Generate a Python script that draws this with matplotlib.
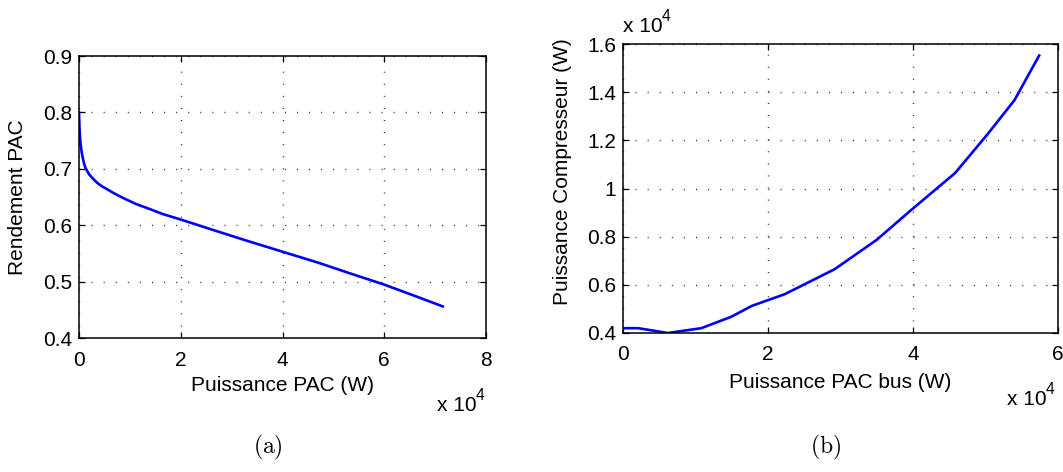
import matplotlib
matplotlib.use('Agg')
import matplotlib.pyplot as plt
import numpy as np

plt.rcParams['font.family'] = ['Liberation Sans', 'DejaVu Sans']
plt.rcParams['lines.scale_dashes'] = False
plt.rcParams['mathtext.fontset'] = 'cm'

# --- data (x in units of 1e4 W) ---
pac_x = [0.0, 0.005, 0.01, 0.02, 0.03, 0.05, 0.07, 0.10, 0.13, 0.20, 0.28, 0.36, 0.45,
         0.55, 0.66, 0.85, 1.11, 1.38, 1.64, 2.0, 2.62, 3.28, 4.0, 4.72, 5.38, 5.99,
         6.56, 7.15]
pac_rend = [0.800, 0.785, 0.772, 0.755, 0.745, 0.731, 0.721, 0.709, 0.701, 0.690, 0.682,
            0.675, 0.669, 0.664, 0.658, 0.649, 0.638, 0.629, 0.620, 0.610, 0.592, 0.573,
            0.553, 0.533, 0.513, 0.495, 0.476, 0.456]

bus_x = [0.0, 0.21, 0.62, 1.08, 1.49, 1.78, 2.23, 2.92, 3.50, 3.98, 4.58, 5.03, 5.40, 5.74]
comp_p = [0.42, 0.42, 0.40, 0.42, 0.467, 0.513, 0.561, 0.665, 0.787, 0.912, 1.064, 1.226,
          1.367, 1.552]

left_xticks = [0, 2, 4, 6, 8]
left_yticks = [0.4, 0.5, 0.6, 0.7, 0.8, 0.9]
right_xticks = [0, 2, 4, 6]
right_yticks = [0.4, 0.6, 0.8, 1.0, 1.2, 1.4, 1.6]

W, H = 1063, 472
fig = plt.figure(figsize=(W / 100, H / 100), dpi=100, facecolor='white')
FS = 15
BLUE = '#0000FF'


def px_rect(x0, x1, ytop, ybot):
    return [x0 / W, 1 - ybot / H, (x1 - x0) / W, (ybot - ytop) / H]


def style_axes(ax):
    ax.grid(True, color='#222222', linewidth=1.0, linestyle=(0, (0.7, 8.0)))
    ax.tick_params(direction='in', length=4, width=0.9, top=True, right=True,
                   labelsize=FS, colors='black')
    ax.tick_params(axis='x', pad=9)
    ax.tick_params(axis='y', pad=5)
    for s in ax.spines.values():
        s.set_linewidth(1.1)
        s.set_color('black')
    ax.xaxis.set_major_formatter(plt.FormatStrFormatter('%g'))
    ax.yaxis.set_major_formatter(plt.FormatStrFormatter('%g'))


# --- (a) ---
ax1 = fig.add_axes(px_rect(79, 486, 56, 338))
ax1.plot(pac_x, pac_rend, color=BLUE, lw=1.9, solid_joinstyle='round')
ax1.set_xlim(0, 8)
ax1.set_ylim(0.4, 0.9)
ax1.set_xticks(left_xticks)
ax1.set_yticks(left_yticks)
style_axes(ax1)
ax1.set_xlabel('Puissance PAC (W)', fontsize=FS)
ax1.set_ylabel('Rendement PAC', fontsize=FS)
ax1.xaxis.set_label_coords(0.5, -0.135)
ax1.yaxis.set_label_coords(-0.128, 0.5)

# --- (b) ---
ax2 = fig.add_axes(px_rect(623, 1058, 44, 333))
ax2.plot(bus_x, comp_p, color=BLUE, lw=1.9, solid_joinstyle='round')
ax2.set_xlim(0, 6)
ax2.set_ylim(0.4, 1.6)
ax2.set_xticks(right_xticks)
ax2.set_yticks(right_yticks)
style_axes(ax2)
ax2.set_xlabel('Puissance PAC bus (W)', fontsize=FS)
ax2.set_ylabel('Puissance Compresseur (W)', fontsize=FS)
ax2.xaxis.set_label_coords(0.5, -0.14)
ax2.yaxis.set_label_coords(-0.117, 0.56)


def exp_label(xpx, ypx):
    fig.text(xpx / W, 1 - ypx / H, 'x 10', fontsize=FS, ha='left', va='baseline')
    fig.text((xpx + 39) / W, 1 - (ypx - 11) / H, '4', fontsize=FS * 0.75,
             ha='left', va='baseline')


exp_label(437, 411)
exp_label(1007, 405)
exp_label(623, 32)

# captions
fig.text(268 / W, 1 - 447 / H, r'$\mathrm{(a)}$', fontsize=17, ha='center', va='center')
fig.text(826 / W, 1 - 447 / H, r'$\mathrm{(b)}$', fontsize=17, ha='center', va='center')

plt.savefig('out.png', dpi=100, facecolor='white')
